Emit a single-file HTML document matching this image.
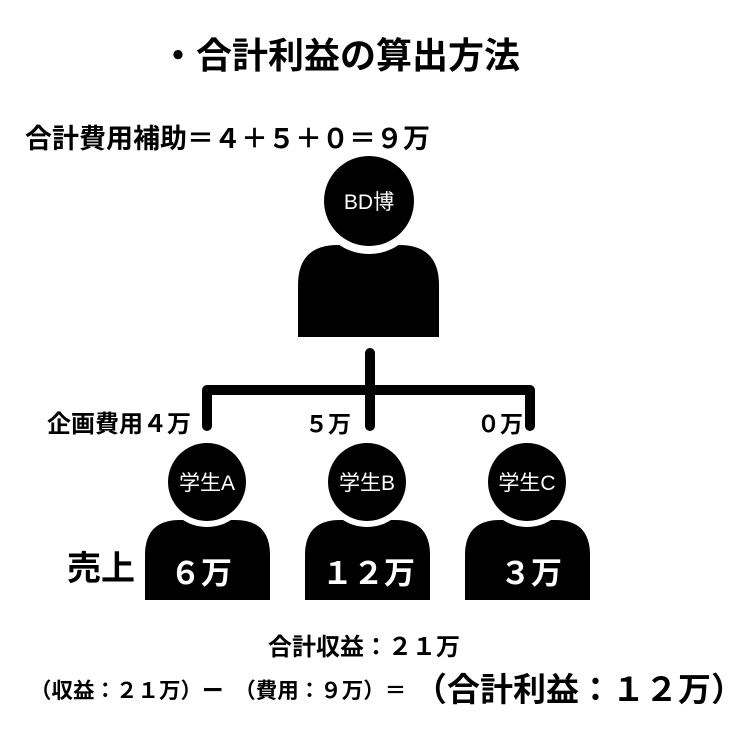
<!DOCTYPE html>
<html><head><meta charset="utf-8"><style>
body{margin:0;width:736px;height:736px;background:#fff;position:relative;overflow:hidden;font-family:"Liberation Sans","Noto Sans CJK JP",sans-serif;}
.t{position:absolute;white-space:nowrap;font-weight:bold;color:#000;line-height:1;}
svg{position:absolute;left:0;top:0}
</style></head><body>
<svg width="736" height="736" viewBox="0 0 736 736">
<g fill="#000">
<path d="M298 337 V285 Q298 245 338 245 H399 Q439 245 439 285 V337 Z"/>
<circle cx="369" cy="201" r="53" fill="#fff"/>
<circle cx="369" cy="201" r="45"/>
<path d="M145 600 V555 Q145 520 180 520 H235 Q270 520 270 555 V600 Z"/>
<circle cx="207" cy="482" r="45" fill="#fff"/>
<circle cx="207" cy="482" r="39"/>
<path d="M305 600 V555 Q305 520 340 520 H395 Q430 520 430 555 V600 Z"/>
<circle cx="367" cy="482" r="45" fill="#fff"/>
<circle cx="367" cy="482" r="39"/>
<path d="M465 600 V555 Q465 520 500 520 H555 Q590 520 590 555 V600 Z"/>
<circle cx="527" cy="482" r="45" fill="#fff"/>
<circle cx="527" cy="482" r="39"/>
</g>
<g stroke="#000" stroke-width="10" fill="none" stroke-linecap="round" stroke-linejoin="round">
<path d="M370 353 V426"/>
<path d="M207 426 V390 H530 V426"/>
</g>
<g fill="#fff" font-family="Liberation Sans,Noto Sans CJK JP,sans-serif" font-size="21">
<text x="369" y="209" text-anchor="middle">BD博</text>
<text x="207" y="490" text-anchor="middle">学生A</text>
<text x="367" y="490" text-anchor="middle">学生B</text>
<text x="527" y="490" text-anchor="middle">学生C</text>
</g>
<g fill="#fff" font-weight="bold" font-size="31" font-family="Liberation Sans,Noto Sans CJK JP,sans-serif">
<text x="170" y="584">６万</text>
<text x="322" y="584">１２万</text>
<text x="500" y="584">３万</text>
</g>
</svg>
<div class="t" style="left:160px;top:38px;font-size:36px;">・合計利益の算出方法</div>
<div class="t" style="left:25px;top:126px;font-size:27px;">合計費用補助＝４＋５＋０＝９万</div>
<div class="t" style="left:47px;top:413px;font-size:24px;">企画費用４万</div>
<div class="t" style="left:305px;top:413px;font-size:23px;">５万</div>
<div class="t" style="left:477px;top:413px;font-size:23px;">０万</div>
<div class="t" style="left:67px;top:552px;font-size:34px;">売上</div>
<div class="t" style="left:268px;top:636px;font-size:24px;">合計収益：２１万</div>
<div class="t" style="left:30px;top:681px;font-size:21.5px;">（収益：２１万）ー　（費用：９万）＝</div>
<div class="t" style="left:414px;top:673px;font-size:33px;">（合計利益：１２万）</div>
</body></html>
